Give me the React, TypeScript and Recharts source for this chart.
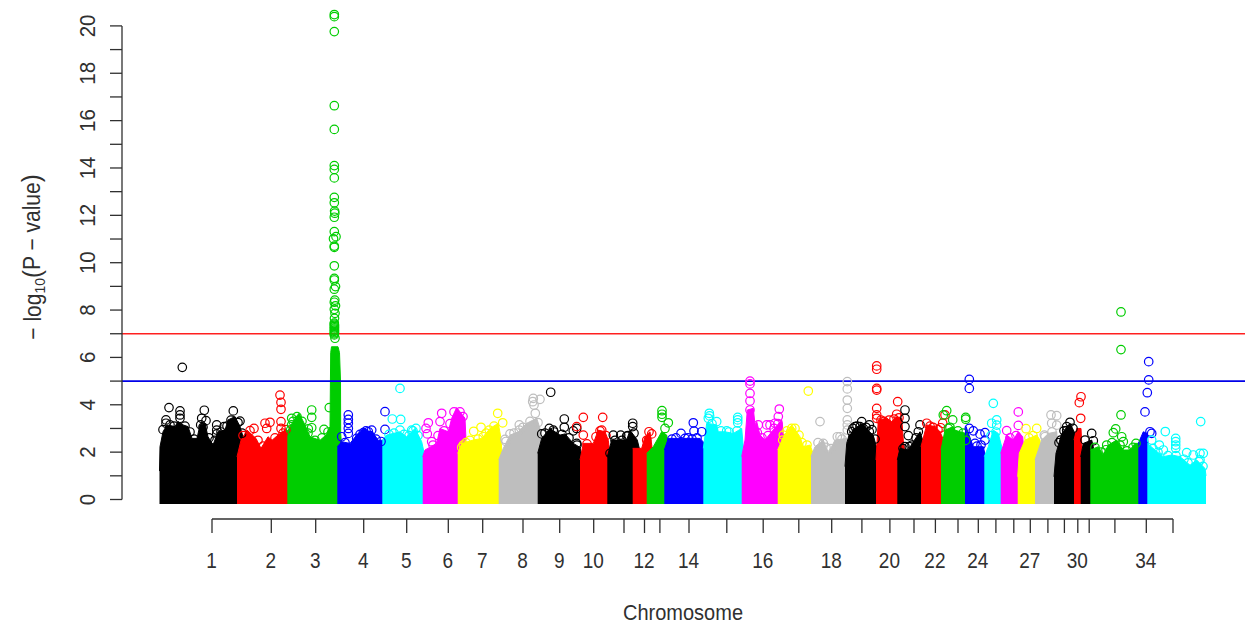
import React from 'react';
import { ComposedChart, Area, Scatter, XAxis, YAxis, ReferenceLine } from 'recharts';

type P = [number, number];

const blockColors = ['#000000','#FF0000','#00CD00','#0000FF','#00FFFF','#FF00FF','#FFFF00','#BEBEBE','#000000','#FF0000','#000000','#FF0000','#00CD00','#0000FF','#00FFFF','#FF00FF','#FFFF00','#BEBEBE','#000000','#FF0000','#000000','#FF0000','#00CD00','#0000FF','#00FFFF','#FF00FF','#FFFF00','#BEBEBE','#000000','#FF0000','#000000','#00CD00','#0000FF','#00FFFF'];

// Upper edge of each block's dense mass: [genome position, -log10 p]
const top1: P[] = [[159.5,1.2],[160,2.23],[163,2.86],[167,3.15],[175,3.08],[178,3.29],[183,3.15],[188,3.08],[192,2.58],[197,2.58],[200,3.15],[205,3.22],[208,2.65],[213,2.3],[218,2.86],[225,2.93],[228,3.36],[235,3.5],[240,3.08],[243,2.65],[245,2]];
const top2: P[] = [[237,1.8],[241,2.5],[247,2.93],[256,2.58],[261,2.16],[268,2.65],[272,2.5],[278,2.72],[285,2.93],[288,2.9],[288.5,2]];
const top3: P[] = [[287.3,2.86],[295,3.43],[299,3.64],[305,3.15],[310,2.65],[320,2.5],[326,2.72],[330,3.08],[330.7,6.2],[331.5,6.45],[338,6.45],[339.5,6.2],[340.5,5],[340.7,2.8],[342,2]];
const top4: P[] = [[337.3,2.23],[341.7,2.44],[350,2.37],[356.7,2.72],[363.3,3.0],[373.3,2.79],[378.3,2.5],[383.3,2.5],[385,2]];
const top5: P[] = [[382.3,2.5],[386.7,2.72],[400,2.86],[406.7,2.65],[415,3.0],[421.7,2.44],[424,2]];
const top6: P[] = [[422.7,1.8],[425,2.09],[436.7,2.37],[440,3.0],[448.3,2.86],[451.7,3.43],[456.7,3.88],[465,3.43],[466,2.5]];
const top7: P[] = [[457.7,1.95],[461.7,2.37],[473.3,2.51],[481.7,2.58],[490,3.0],[498.3,3.22],[500.7,2.65],[502,2]];
const top8: P[] = [[498.7,1.67],[503.3,2.16],[510,2.72],[518.3,2.86],[526.7,3.22],[536.7,3.43],[540,3.0],[542,2]];
const top9: P[] = [[537.7,1.95],[541.7,2.58],[550,3],[560,2.72],[565,2.77],[573.3,2.37],[580,2.2],[582,1.8]];
const top10: P[] = [[580,1.67],[583.3,2.37],[593.3,2.37],[598.3,2.93],[605,2.86],[608.3,2.5],[610,1.9]];
const top11: P[] = [[607.3,1.81],[611.7,2.51],[626.7,2.51],[630,2.93],[637.3,2.51],[639.3,2.16],[640,1.8]];
const top12: P[] = [[632.7,2.16],[641.7,2.16],[645,2.65],[650,2.86],[652,2.2]];
const top13: P[] = [[646.7,1.95],[653.3,2.23],[661.7,2.86],[666.7,2.72],[668,2.4]];
const top14: P[] = [[664.3,2.09],[668.3,2.58],[683.3,2.58],[700,2.58],[704,2.4],[705,2]];
const top15: P[] = [[703.3,2.16],[706.7,3.22],[716.7,3.15],[718.3,2.86],[725,2.86],[733.3,2.79],[741.7,3.0],[743.3,2.2]];
const top16: P[] = [[741.7,1.81],[745,2.51],[747.3,3.78],[753.3,3.85],[755,3.15],[756.7,3.29],[760,2.72],[765,2.51],[771.7,2.86],[781.7,3.36],[783.3,2.86],[785,2]];
const top17: P[] = [[777.7,2.09],[783.3,2.65],[791.7,3.15],[800,2.65],[803.3,2.23],[810,2.3],[812.7,2]];
const top18: P[] = [[811,1.81],[815,2.23],[823.3,2.51],[828.3,1.95],[835,2.51],[846.7,2.58],[848,2]];
const top19: P[] = [[845,1.39],[846.7,2.37],[850,2.86],[861.7,3.2],[873.3,2.7],[878.3,1.95],[879,1.5]];
const top20: P[] = [[876,1.67],[878.3,3.36],[886.7,3.43],[891.7,3.29],[896.7,3.5],[901.7,3.43],[903.3,2.5],[905,1.9]];
const top21: P[] = [[897.3,1.67],[900,2.16],[908.3,2.09],[913.3,2.44],[920,2.86],[922.7,2.51],[923,1.9]];
const top22: P[] = [[921,2.23],[926.7,3.15],[935,3.08],[940,2.86],[942.7,2.6],[944,2]];
const top23: P[] = [[941,2.09],[945,2.93],[953.3,3.08],[955,2.93],[960,2.86],[966,2.79],[967,2.2]];
const top24: P[] = [[965,2.6],[966,3.08],[973.3,2.23],[983.3,2.23],[985,1.9]];
const top25: P[] = [[984.3,1.81],[988.3,2.23],[993.3,2.93],[998.3,2.79],[1001.7,2.23],[1003,1.9]];
const top26: P[] = [[1000.7,1.95],[1006.7,2.72],[1013.3,2.51],[1018.3,2.86],[1022.7,2.65],[1024,2]];
const top27: P[] = [[1017.7,0.96],[1019.3,1.95],[1025,2.51],[1036.7,2.72],[1040,2.51],[1041,1.8]];
const top28: P[] = [[1035,1.67],[1041.7,2.51],[1048.3,2.79],[1056.7,2.86],[1058,2.1]];
const top29: P[] = [[1054,0.96],[1056,1.95],[1061.7,2.79],[1070,3.22],[1075,2.79],[1077,1.9]];
const top30: P[] = [[1074,2.51],[1076.7,3.0],[1081,3.0],[1081.7,2.37],[1083,1.8]];
const top31: P[] = [[1080.7,1.8],[1083.3,2.37],[1091.7,2.51],[1093.3,2.23],[1094,1.8]];
const top32: P[] = [[1090.3,2.09],[1098.3,2.23],[1103.3,1.88],[1108.3,2.3],[1116.7,2.51],[1123.3,2.09],[1130,2.09],[1135,2.37],[1140,2.37],[1141,1.9]];
const top33: P[] = [[1138.3,2.37],[1143.3,2.86],[1147.3,2.79],[1148.3,2.2]];
const top34: P[] = [[1147.3,2.37],[1155,2.09],[1163.3,1.81],[1171.7,1.88],[1180,1.81],[1190,1.45],[1196.7,1.67],[1205,1.31],[1206,1.0]];

// Hollow markers above and along the rim of each mass
const hits1: P[] = [[182.3,5.58],[169,3.88],[180,3.74],[180,3.57],[180,3.43],[166,3.36],[166,3.22],[204.3,3.77],[201.7,3.43],[206,3.33],[200.7,3.15],[216.7,3.15],[216.7,2.93],[216.7,2.77],[233.3,3.74],[240,3.31],[224,3.08],[163,2.95],[170,3.15],[174,3.1],[185,3.1],[190,2.85],[194,2.55],[203,3.05],[209,2.6],[215,2.5],[221,2.85],[227,3.1],[231,3.35],[238,3.25],[242,2.8]];
const hits2: P[] = [[280,4.41],[281,4.1],[281,3.81],[281,3.29],[281,3.0],[265,3.22],[270,3.26],[266.7,3.0],[254,3.0],[250,2.91],[243,2.7],[258,2.5],[263,2.25],[275,2.6],[283,2.8],[286,2.95]];
const hits3: P[] = [[311.7,3.78],[311.7,3.47],[311.7,3.03],[308.3,2.98],[324,2.96],[329.3,3.88],[291.7,3.43],[291.7,3.15],[290.7,2.94],[293,3.3],[297,3.5],[302,3.3],[308,2.8],[315,2.5],[322,2.6],[328,2.85],[334.3,20.48],[334.3,20.39],[334.3,19.76],[334.3,16.63],[334.3,15.63],[334.3,14.1],[334.3,13.94],[334.3,13.58],[334.3,12.76],[334.3,12.53],[334.6,12.18],[334.8,12.09],[334.3,11.92],[334.3,11.31],[336,11.1],[333.5,11.01],[334.3,10.7],[334.3,10.65],[334.3,9.87],[334.3,9.34],[334.3,9.27],[335.5,8.99],[334.3,8.88],[334.8,8.42],[334.3,8.33],[335.5,8.18],[334.3,8.03],[335,7.86],[334.5,7.65],[334.3,7.45],[334.3,7.4],[334.5,7.35],[334.3,7.3],[334.5,7.25],[334.3,7.2],[334.5,7.15],[334.3,7.1],[334.5,7.05],[334.3,7.0],[334.3,6.95],[335,6.81]];
const hits4: P[] = [[348.3,3.57],[348.3,3.38],[348.3,3.22],[348.3,3.0],[348.3,2.79],[341.7,2.65],[356.7,2.58],[356.7,2.37],[385,3.71],[371.7,2.93],[368.3,2.86],[385,2.96],[363.3,2.82],[345,2.4],[360,2.75],[366,2.9],[370,2.7],[376,2.55],[381,2.45]];
const hits5: P[] = [[400,4.69],[392.3,3.4],[400.7,3.38],[400,2.93],[416,3.0],[411.7,2.93],[389,2.75],[394,2.8],[404,2.75],[409,2.7],[413,2.9],[418,2.7]];
const hits6: P[] = [[428.3,3.24],[427.3,2.77],[441.7,3.64],[440,3.29],[426,3.0],[431.7,2.44],[433,2.3],[438,2.7],[444,2.9],[450,3.2],[454,3.7],[460,3.7],[463,3.5]];
const hits7: P[] = [[497.7,3.64],[502.7,3.24],[481,3.05],[473.7,2.88],[489.3,2.93],[483.3,2.65],[463.3,2.3],[461.7,2.2],[466,2.4],[470,2.5],[478,2.55],[486,2.8],[494,3.1]];
const hits8: P[] = [[533.3,4.27],[540,4.23],[532.7,4.13],[534,3.99],[535.3,3.64],[519.3,3.15],[519.3,2.93],[510,2.77],[505,2.54],[506,2.45],[514,2.8],[523,3.05],[530,3.3],[538,3.25]];
const hits9: P[] = [[550.7,4.53],[549.3,3.0],[541.7,2.77],[553.3,2.93],[564.3,3.4],[564.3,3.05],[573.3,2.9],[576.7,3.0],[576.7,2.37],[545,2.8],[554,2.85],[562,2.75],[569,2.6],[577,2.3]];
const hits10: P[] = [[583.3,3.47],[602.7,3.47],[576.7,3.08],[583.3,2.72],[601.7,2.93],[587,2.35],[596,2.65],[600,2.9],[606,2.7]];
const hits11: P[] = [[632.7,3.22],[632.7,3.08],[613.3,2.72],[620.7,2.72],[610,1.95],[626.7,2.68],[615,2.5],[622,2.5],[628,2.7],[634,2.8]];
const hits12: P[] = [[649,2.86],[651.7,2.77],[646.7,2.5]];
const hits13: P[] = [[662,3.75],[662,3.6],[662,3.47],[668.3,3.24],[665,3.0]];
const hits14: P[] = [[693.3,3.24],[694,2.89],[681,2.79],[701.7,2.86],[685,2.58],[672,2.55],[676,2.6],[688,2.6],[692,2.55],[697,2.6]];
const hits15: P[] = [[709.3,3.64],[709.6,3.53],[708.3,3.43],[737.7,3.47],[737.7,3.36],[737.7,3.24],[716.7,3.29],[726.7,2.9],[712,3.2],[721,2.9],[729,2.85],[737,2.9]];
const hits16: P[] = [[750,5.0],[750,4.88],[750,4.48],[750,4.16],[750,3.78],[779.3,3.82],[778.3,3.5],[770,3.15],[758.3,3.15],[766.7,3.15],[775,3.22],[757.3,2.82],[762,2.6],[768,2.7],[774,3.0],[778,3.2]];
const hits17: P[] = [[808.3,4.58],[791.7,3.0],[790.7,2.86],[783.3,2.72],[782.7,2.51],[799,2.72],[787,2.9],[795,3.0],[802,2.4],[807,2.3]];
const hits18: P[] = [[820,3.29],[823.3,2.37],[837.3,2.65],[840,2.65],[847.3,4.98],[847.3,4.67],[847.3,4.2],[847.3,3.85],[847.3,3.36],[847.3,3.15],[847.3,2.93],[818,2.4],[826,2.2],[831,2.15],[842,2.55]];
const hits19: P[] = [[861.7,3.29],[869.3,3.15],[869.3,2.86],[869.3,2.58],[855,3.08],[851.7,2.86],[860,3.08],[863.3,3.0],[853,3.0],[857,3.1],[866,3.05],[872,2.95],[875,2.55]];
const hits20: P[] = [[876.7,5.64],[876.7,5.5],[876.7,4.69],[876.7,4.62],[876.7,3.85],[876.7,3.57],[876.7,3.43],[897.7,4.13],[896.7,3.6],[881,3.35],[884,3.3],[889,3.35],[894,3.4],[899,3.45]];
const hits21: P[] = [[905,3.78],[905,3.43],[905,3.08],[908.3,2.7],[905,2.23],[909.3,2.23],[920,3.15],[918.3,2.86],[903,2.15],[912,2.3],[916,2.6]];
const hits22: P[] = [[926.7,3.22],[940.7,3.03],[945,3.57],[942.7,3.22],[930,3.1],[933,3.05],[938,2.95]];
const hits23: P[] = [[946.7,3.75],[943.3,3.57],[952.7,3.36],[948.3,3.0],[965.7,3.47],[965.7,3.39],[965.7,2.5],[950,3.05],[958,2.9],[963,2.8]];
const hits24: P[] = [[969.3,5.07],[969.3,4.69],[969.3,3.0],[973.3,2.9],[980,2.76],[985,2.82],[985,2.51],[975,2.37],[977,2.25],[981,2.3]];
const hits25: P[] = [[993.3,4.06],[996.7,3.36],[991.7,3.22],[996.7,3.14],[991,2.7],[996,2.85]];
const hits26: P[] = [[1018.3,3.7],[1018.3,3.13],[1006.7,2.91],[1010,2.6],[1016,2.7]];
const hits27: P[] = [[1026,2.99],[1036.7,3.0],[1029,2.6],[1033,2.7]];
const hits28: P[] = [[1051,3.57],[1056.7,3.54],[1051.7,3.22],[1056.7,3.14],[1044.3,2.72],[1045,2.65],[1052,2.85]];
const hits29: P[] = [[1070,3.26],[1066.7,3.08],[1066.7,2.91],[1060.7,2.51],[1059,2.4],[1064,2.9],[1073,3.0]];
const hits30: P[] = [[1081,4.34],[1079.3,4.09],[1080.7,3.43]];
const hits31: P[] = [[1091.7,2.79],[1093.3,2.48],[1085,2.51]];
const hits32: P[] = [[1121,7.92],[1121,6.33],[1121,3.57],[1115.7,2.98],[1113.3,2.82],[1121.7,2.65],[1123.3,2.44],[1106.7,2.3],[1136,2.37],[1095,2.2],[1101,2.0],[1106,2.1],[1112,2.4],[1120,2.3],[1127,2.05],[1133,2.2]];
const hits33: P[] = [[1148.7,5.82],[1148.7,5.05],[1147.3,4.51],[1145,3.7],[1150,2.86],[1151.7,2.79]];
const hits34: P[] = [[1200.7,3.29],[1165.3,2.87],[1159.3,2.3],[1151.7,2.51],[1163.3,2.09],[1175.7,2.58],[1175.7,2.44],[1175.7,2.3],[1175.7,2.16],[1186.7,1.98],[1193.3,1.88],[1200,1.95],[1203.3,1.95],[1200,1.67],[1153,2.15],[1158,2.0],[1168,1.85],[1176,1.85],[1184,1.7],[1188,1.55],[1199,1.6],[1203,1.4]];

const tops = [top1,top2,top3,top4,top5,top6,top7,top8,top9,top10,top11,top12,top13,top14,top15,top16,top17,top18,top19,top20,top21,top22,top23,top24,top25,top26,top27,top28,top29,top30,top31,top32,top33,top34];
const hits = [hits1,hits2,hits3,hits4,hits5,hits6,hits7,hits8,hits9,hits10,hits11,hits12,hits13,hits14,hits15,hits16,hits17,hits18,hits19,hits20,hits21,hits22,hits23,hits24,hits25,hits26,hits27,hits28,hits29,hits30,hits31,hits32,hits33,hits34];

const chromTicks = [212,271.3,315.7,363.7,406.7,448.3,482.7,523,559.7,593.7,624,644.5,659.9,689,726.8,763.2,798.8,831.7,861.9,889.9,914,935.4,958,978.3,995.9,1013.8,1030.3,1047.9,1064.4,1077.8,1089.2,1114.9,1146.3,1173];
const chromLabels = ['1','2','3','4','5','6','7','8','9','10','','12','','14','','16','','18','','20','','22','','24','','','27','','','30','','','34',''];
const pTicks = [0,1,2,3,4,5,6,7,8,9,10,11,12,13,14,15,16,17,18,19,20];
const genomeWide = 7;
const suggestive = 5;
const axisBottom = -0.8235;
const baseLevel = -0.19;

const FONT = '"Liberation Sans", Arial, sans-serif';
const INK = '#303030';

const XTick = (props: any) => {
  const { x, payload } = props;
  const label = chromLabels[chromTicks.indexOf(payload.value)];
  return (
    <g>
      <line x1={x} x2={x} y1={519} y2={533} stroke={INK} strokeWidth={1.3} />
      {label ? <text transform={`translate(${x - 0.5} 568) scale(1 1.2)`} textAnchor="middle" fontSize={19} fontFamily={FONT} fill={INK}>{label}</text> : null}
    </g>
  );
};

const YTick = (props: any) => {
  const { y, payload } = props;
  const v = payload.value;
  return (
    <g>
      <line x1={110} x2={122} y1={y} y2={y} stroke={INK} strokeWidth={1.3} />
      {v % 2 === 0 ? <text transform={`translate(95 ${y}) rotate(-90) scale(1 1.1)`} textAnchor="middle" fontSize={20.5} fontFamily={FONT} fill={INK}>{v}</text> : null}
    </g>
  );
};

const Ring = (color: string) => (props: any) => (
  <circle cx={props.cx} cy={props.cy} r={4.25} fill="none" stroke={color} strokeWidth={1.2} />
);

export default function App() {
  return (
    <div style={{ position: 'absolute', left: 0, top: 0, width: 1259, height: 624, background: '#fff' }}>
      <ComposedChart width={1259} height={624} margin={{ top: 5, right: 14, bottom: 0, left: 0 }}>
        <XAxis type="number" dataKey="x" domain={[122, 1245]} ticks={chromTicks} interval={0} axisLine={false} tickLine={false} tickSize={0} tickMargin={0} height={105} tick={XTick} allowDataOverflow
          label={{ content: () => <text transform="translate(683 619.5) scale(1 1.1)" textAnchor="middle" fontSize={20} fontFamily={FONT} fill={INK}>Chromosome</text> }} />
        <YAxis type="number" dataKey="y" domain={[axisBottom, 20.8826]} ticks={pTicks} interval={0} axisLine={false} tickLine={false} tickSize={0} tickMargin={0} width={122} tick={YTick} allowDataOverflow
          label={{ content: () => (
            <text transform="translate(41 257) rotate(-90) scale(1 1.1)" textAnchor="middle" fontSize={21} fontFamily={FONT} fill={INK} xmlSpace="preserve">
              {'− log'}<tspan fontSize={14} dy={4}>10</tspan><tspan dy={-4} fontSize={24}>(</tspan><tspan dy={-1}>{'P − value'}</tspan><tspan fontSize={24}>)</tspan>
            </text>
          ) }} />
        {tops.map((t, i) => (
          <Area key={`a${i}`} data={t.map(([x, y]) => ({ x, y }))} dataKey="y" type="linear" baseValue={baseLevel} stroke={blockColors[i]} strokeWidth={1} fill={blockColors[i]} fillOpacity={1} dot={false} activeDot={false} isAnimationActive={false} />
        ))}
        {hits.map((h, i) => (
          <Scatter key={`s${i}`} data={h.map(([x, y]) => ({ x, y }))} dataKey="y" shape={Ring(blockColors[i])} isAnimationActive={false} />
        ))}
        <ReferenceLine y={genomeWide} stroke="#FF2020" strokeWidth={1.6} />
        <ReferenceLine y={suggestive} stroke="#0000E8" strokeWidth={1.6} />
        <ReferenceLine segment={[{ x: 122, y: 0 }, { x: 122, y: 20 }]} stroke={INK} strokeWidth={1.3} ifOverflow="visible" />
        <ReferenceLine segment={[{ x: 212, y: axisBottom }, { x: 1173, y: axisBottom }]} stroke={INK} strokeWidth={1.3} ifOverflow="visible" />
      </ComposedChart>
    </div>
  );
}
